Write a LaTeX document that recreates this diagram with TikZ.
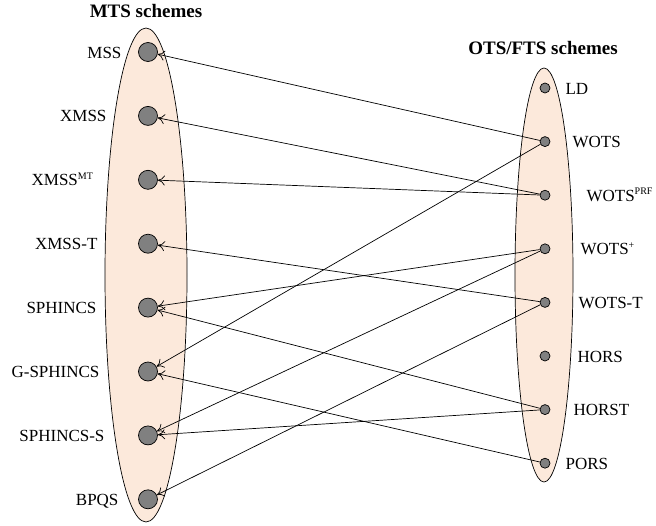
\documentclass[tikz,border=0pt]{standalone}
\usepackage{fontspec}
\setmainfont{Liberation Serif}
\usepackage{tikz}
\usetikzlibrary{positioning, arrows.meta}

\definecolor{setfill}{RGB}{252,233,219}
\definecolor{dotfill}{RGB}{128,128,128}

\tikzset{
    mts/.style={circle, draw, fill=dotfill, line width=0.7pt, minimum size=19pt, inner sep=0pt},
    ots/.style={circle, draw, fill=dotfill, line width=0.7pt, minimum size=10pt, inner sep=0pt},
    lbl/.style={inner sep=0pt, text height=12pt, text depth=0pt, font=\fontsize{17}{20}\selectfont},
    heading/.style={inner sep=0pt, font=\fontsize{19}{22}\selectfont\bfseries},
    uses/.style={line width=0.7pt, -{To[length=7pt, width=10pt]}}
}

\begin{document}
\begin{tikzpicture}[x=1pt, y=-1pt]
    \useasboundingbox (0,0) rectangle (656,525);

    % the two sets
    \draw[fill=setfill, line width=0.7pt] (146,275) ellipse [x radius=41pt, y radius=247pt];
    \draw[fill=setfill, line width=0.7pt] (544,275) ellipse [x radius=29pt, y radius=207pt];

    \node[heading] (mtshead) at (146,11) {MTS schemes};
    \node[heading] (otshead) at (543,48) {OTS/FTS schemes};

    % MTS schemes
    \node[mts] (mss) at (148,52) {};
    \node[mts, below=44.2pt of mss] (xmss) {};
    \node[mts, below=44.2pt of xmss] (xmssmt) {};
    \node[mts, below=44.2pt of xmssmt] (xmsst) {};
    \node[mts, below=44.2pt of xmsst] (sphincs) {};
    \node[mts, below=44.2pt of sphincs] (gsphincs) {};
    \node[mts, below=44.2pt of gsphincs] (sphincss) {};
    \node[mts, below=44.2pt of sphincss] (bpqs) {};

    \node[lbl, left=16.5pt of mss] (mssl) {MSS};
    \node[lbl, left=31.5pt of xmss] (xmssl) {XMSS};
    \node[lbl, left=44.5pt of xmssmt] (xmssmtl) {XMSS\textsuperscript{\fontsize{10}{10}\selectfont MT}};
    \node[lbl, left=40.5pt of xmsst] (xmsstl) {XMSS-T};
    \node[lbl, left=41.5pt of sphincs] (sphincsl) {SPHINCS};
    \node[lbl, left=38.5pt of gsphincs] (gsphincsl) {G-SPHINCS};
    \node[lbl, left=33.5pt of sphincss] (sphincssl) {SPHINCS-S};
    \node[lbl, left=19.5pt of bpqs] (bpqsl) {BPQS};

    % OTS/FTS schemes
    \node[ots] (ld) at (545,88) {};
    \node[ots, below=42.9pt of ld] (wots) {};
    \node[ots, below=42.9pt of wots] (wotsprf) {};
    \node[ots, below=42.9pt of wotsprf] (wotsp) {};
    \node[ots, below=42.9pt of wotsp] (wotst) {};
    \node[ots, below=42.9pt of wotst] (hors) {};
    \node[ots, below=42.9pt of hors] (horst) {};
    \node[ots, below=42.9pt of horst] (pors) {};

    \node[lbl, right=15pt of ld] (ldl) {LD};
    \node[lbl, right=22pt of wots] (wotsl) {WOTS};
    \node[lbl, right=36pt of wotsprf] (wotsprfl) {WOTS\textsuperscript{\fontsize{10}{10}\selectfont PRF}};
    \node[lbl, right=30pt of wotsp] (wotspl) {WOTS\textsuperscript{\fontsize{10}{10}\selectfont +}};
    \node[lbl, right=28pt of wotst] (wotstl) {WOTS-T};
    \node[lbl, right=27pt of hors] (horsl) {HORS};
    \node[lbl, right=23pt of horst] (horstl) {HORST};
    \node[lbl, right=15pt of pors] (porsl) {PORS};

    \draw[uses]
        (wots) edge (mss)
        (wotsprf) edge (xmss)
        (wotsprf) edge (xmssmt)
        (wotst) edge (xmsst)
        (wotsp) edge (sphincs)
        (horst) edge (sphincs)
        (wots) edge (gsphincs)
        (pors) edge (gsphincs)
        (wotsp) edge (sphincss)
        (horst) edge (sphincss)
        (wotst) edge (bpqs);
\end{tikzpicture}
\end{document}
